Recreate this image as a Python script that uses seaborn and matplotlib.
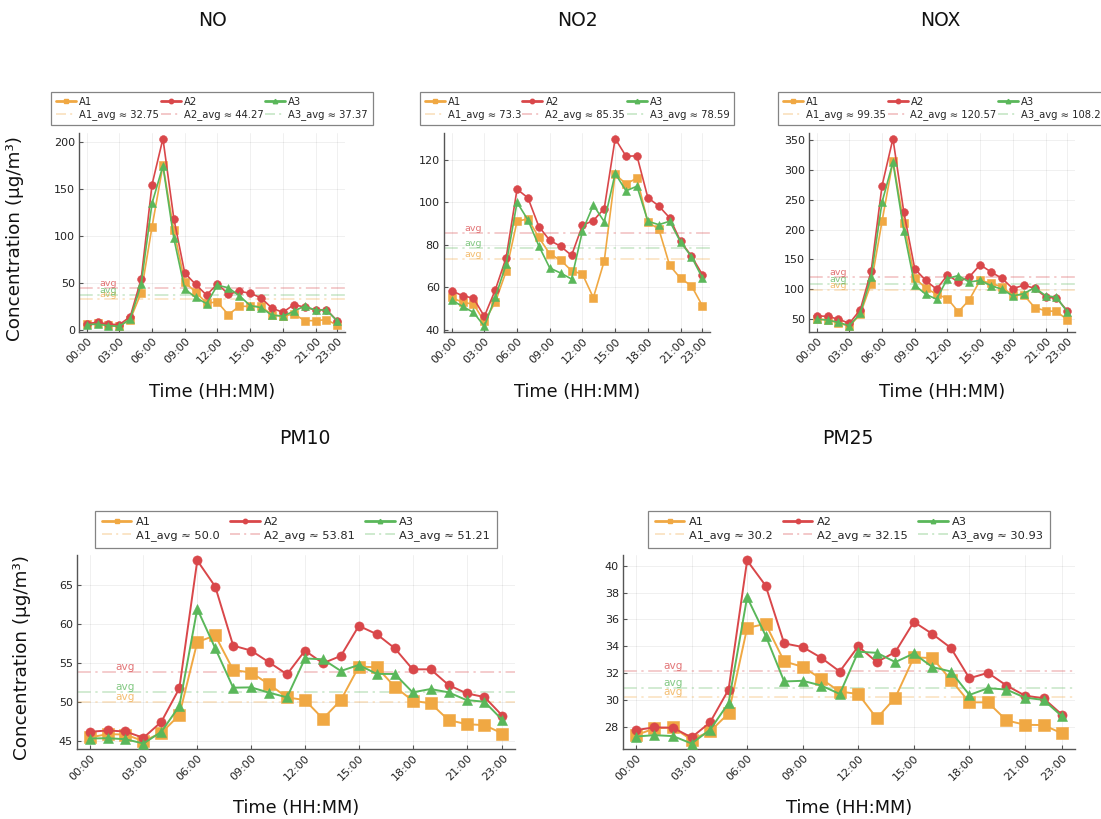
import numpy as np
import seaborn as sns
import matplotlib
matplotlib.use("Agg")
import matplotlib.pyplot as plt
from matplotlib.lines import Line2D

# ---- data -------------------------------------------------------------
hours = list(range(24))
tick_hours = [0, 3, 6, 9, 12, 15, 18, 21, 23]
tick_labels = ["00:00", "03:00", "06:00", "09:00", "12:00",
               "15:00", "18:00", "21:00", "23:00"]
sites = ["A1", "A2", "A3"]

no_a1 = [6, 6.8, 5, 4, 10.8, 39.4, 110, 175.5, 106, 51, 40.1, 28.7,
         29.4, 16.1, 25, 25, 25, 16, 14.3, 17, 9.7, 9.7, 10.8, 4.7]
no_a2 = [6.5, 7.9, 6, 5.4, 14, 54, 155, 204, 118.5, 60.5, 48.4, 37,
         49, 38, 41, 39, 34, 23, 18.6, 26.7, 24.2, 21, 21.5, 9.3]
no_a3 = [5.4, 6, 4.3, 3.6, 11.5, 48.5, 135, 175, 97.5, 43.5, 34.5, 27.8,
         47.5, 44.8, 36.4, 25.8, 23.6, 15.5, 14.6, 19.7, 25.4, 20.8, 21.2, 9]

no2_a1 = [55.2, 52.9, 52.1, 43.9, 52.9, 67.5, 91.1, 92.2, 83.5, 75.7, 72.8, 67.8,
          66.2, 55.1, 72.4, 113.2, 108.7, 111.4, 90.6, 87.5, 70.3, 64.2, 60.7, 51.3]
no2_a2 = [58.4, 56, 54.9, 46.3, 58.7, 73.9, 106.2, 102.1, 88.6, 82.1, 79.3, 75,
          89.2, 91.4, 97.1, 130, 121.7, 121.9, 102.2, 98.3, 92.7, 81.7, 74.7, 66]
no2_a3 = [54, 51, 48.2, 41.6, 55.2, 70.8, 100, 91.7, 79.5, 69.1, 66.7, 63.9,
          86.5, 98.7, 90.9, 113.6, 105.4, 107.6, 91.1, 89.5, 91.1, 81.3, 74.4, 64.4]

nox_a1 = [50, 48.9, 43.9, 37.8, 58.3, 109.4, 214, 315, 211, 118.9, 102.2, 91.7,
          84.4, 62.2, 82.2, 115, 110, 103.9, 90, 90.6, 69.4, 63.9, 62.8, 48.9]
nox_a2 = [55.6, 54.4, 50, 42.8, 65.6, 130.3, 273.5, 352.5, 229, 134.4, 115, 100,
          123.9, 112.2, 120.6, 141.1, 128.9, 118.3, 101.1, 106.7, 101.7, 87.2, 85, 63.9]
nox_a3 = [50, 48.3, 44.4, 38.9, 59.4, 121, 246, 313, 198, 107, 91.7, 83.3,
          118, 123, 112, 115, 106, 100, 88.9, 92.7, 102.7, 89.3, 86.6, 61.7]

pm10_a1 = [45.43, 45.86, 45.81, 44.96, 46.03, 48.3, 57.65, 58.5, 54.08, 53.74, 52.24, 50.57,
           50.22, 47.83, 50.22, 54.51, 54.42, 51.94, 50.14, 49.8, 47.66, 47.14, 47.01, 45.94]
pm10_a2 = [46.16, 46.33, 46.2, 45.39, 47.44, 51.72, 68.1, 64.76, 57.2, 56.56, 55.06, 53.52,
           56.56, 54.94, 55.88, 59.73, 58.66, 56.86, 54.16, 54.16, 52.15, 51.08, 50.61, 48.21]
pm10_a3 = [45.3, 45.34, 45.21, 44.66, 46.16, 49.45, 61.9, 56.86, 51.81, 51.85, 51.17, 50.57,
           55.55, 55.45, 53.95, 54.72, 53.57, 53.57, 51.21, 51.64, 51.21, 50.22, 50.01, 47.66]

pm25_a1 = [27.4, 27.9, 27.98, 27.05, 27.68, 29.02, 35.37, 35.67, 32.88, 32.48, 31.58, 30.64,
           30.46, 28.65, 30.19, 33.18, 33.13, 31.51, 29.84, 29.84, 28.5, 28.17, 28.15, 27.53]
pm25_a2 = [27.78, 27.98, 27.95, 27.23, 28.35, 30.79, 40.38, 38.51, 34.22, 33.95, 33.15, 32.13,
           34, 32.83, 33.58, 35.82, 34.92, 33.88, 31.63, 32.03, 31.09, 30.34, 30.14, 28.92]
pm25_a3 = [27.3, 27.4, 27.33, 26.78, 27.8, 29.79, 37.65, 34.8, 31.39, 31.44, 31.09, 30.46,
           33.6, 33.52, 32.83, 33.47, 32.46, 32.13, 30.39, 30.89, 30.79, 30.19, 30.02, 28.8]

pollutants = ["NO", "NO2", "NOX", "PM10", "PM25"]
series = {
    "NO": [no_a1, no_a2, no_a3],
    "NO2": [no2_a1, no2_a2, no2_a3],
    "NOX": [nox_a1, nox_a2, nox_a3],
    "PM10": [pm10_a1, pm10_a2, pm10_a3],
    "PM25": [pm25_a1, pm25_a2, pm25_a3],
}
yticks = {
    "NO": [0, 50, 100, 150, 200],
    "NO2": [40, 60, 80, 100, 120],
    "NOX": [50, 100, 150, 200, 250, 300, 350],
    "PM10": [45, 50, 55, 60, 65],
    "PM25": [28, 30, 32, 34, 36, 38, 40],
}

# ---- style ------------------------------------------------------------
sns.set_theme(style="ticks")
plt.rcParams["font.family"] = ["DejaVu Sans"]
plt.rcParams["axes.edgecolor"] = "#555555"
plt.rcParams["xtick.color"] = "#555555"
plt.rcParams["ytick.color"] = "#555555"
plt.rcParams["xtick.labelcolor"] = "#222222"
plt.rcParams["ytick.labelcolor"] = "#222222"

colors = {"A1": "#f0a843", "A2": "#d9474a", "A3": "#5ab75a"}
markers = {"A1": "s", "A2": "o", "A3": "^"}
dashdot = (0, (9, 3, 1.5, 3))

W, H = 1101, 819
fig = plt.figure(figsize=(W / 100, H / 100), dpi=100)

# panel boxes in pixels: left, right, top, bottom
boxes = {
    "NO": (79, 345, 133, 332),
    "NO2": (444, 710, 133, 332),
    "NOX": (809, 1075, 133, 332),
    "PM10": (77, 515, 555, 749),
    "PM25": (623, 1075, 555, 749),
}
title_pos = {"NO": (212, 20), "NO2": (577, 20), "NOX": (940, 20),
             "PM10": (305, 438), "PM25": (848, 438)}


def fmt_avg(v):
    return repr(round(float(v), 2))


for name in pollutants:
    l, r, t, b = boxes[name]
    big = name.startswith("PM")
    ax = fig.add_axes([l / W, 1 - b / H, (r - l) / W, (b - t) / H])
    ms = {"A1": 8.0, "A2": 6.6, "A3": 7.6} if big else {"A1": 6.4, "A2": 5.6, "A3": 6.2}
    lw = 1.4 if big else 1.2
    fs_leg = 8.2 if big else 7.2
    fs_avg = 7.6 if big else 6.8

    handles = []
    vals_all = []
    for site, vals in zip(sites, series[name]):
        c = colors[site]
        sns.lineplot(x=hours, y=vals, ax=ax, color=c, marker=markers[site],
                     markersize=ms[site], markeredgewidth=0.4, markeredgecolor=c,
                     linewidth=lw, legend=False, zorder=3)
        avg = float(np.mean(vals))
        ax.axhline(avg, color=c, linestyle=dashdot, linewidth=1.1, alpha=0.35, zorder=2)
        ax.text(2, avg, "avg", color=c, alpha=0.75, fontsize=fs_avg,
                ha="center", va="bottom", zorder=2)
        vals_all.extend(vals)
        handles.append(Line2D([], [], color=c, marker=markers[site], markersize=3.2,
                              linewidth=2.0, label=site))
        handles.append(Line2D([], [], color=c, linestyle=(0, (6, 2.5, 1.2, 2.5)),
                              linewidth=1.2, alpha=0.35,
                              label=f"{site}_avg \u2248 {fmt_avg(avg)}"))

    lo, hi = min(vals_all), max(vals_all)
    pad = 0.03 * (hi - lo)
    ax.set_ylim(lo - pad, hi + pad)
    ax.set_xlim(-0.7, 23.7)
    ax.set_xticks(tick_hours)
    ax.set_xticklabels(tick_labels, rotation=45, ha="right", rotation_mode="anchor")
    ax.set_yticks(yticks[name])
    ax.tick_params(axis="both", direction="in", length=3, width=0.8, labelsize=8, pad=3)
    ax.grid(True, color="black", alpha=0.07, linewidth=0.6)
    for side in ("top", "right"):
        ax.spines[side].set_visible(False)
    for side in ("left", "bottom"):
        ax.spines[side].set_linewidth(1.0)

    ax.set_xlabel("Time (HH:MM)", fontsize=12.8, color="#111111")
    axh = b - t
    ax.xaxis.set_label_coords(0.5, -(383 - 332) / 199 if not big else -(799 - 749) / 194)
    ax.xaxis.label.set_va("top")
    if name in ("NO", "PM10"):
        ax.set_ylabel("Concentration (\u03bcg/m\u00b3)", fontsize=13.2, color="#111111")
        ax.yaxis.set_label_coords((24 - l) / (r - l) if not big else (31 - l) / (r - l), 0.47)
    else:
        ax.set_ylabel("")

    leg_gap = 8 if not big else 7
    leg = ax.legend(handles=handles, ncol=3, loc="lower center",
                    bbox_to_anchor=(0.5, 1 + leg_gap / axh), fontsize=fs_leg,
                    frameon=True, fancybox=False, edgecolor="#666666",
                    borderpad=0.5 if not big else 0.6,
                    labelspacing=0.24 if not big else 0.25,
                    handlelength=2.0 if not big else 2.6,
                    handletextpad=0.3 if not big else 0.4,
                    columnspacing=0.15 if not big else 0.9, borderaxespad=0)
    leg.get_frame().set_linewidth(0.9)

    tx, ty = title_pos[name]
    fig.text(tx / W, 1 - ty / H, name, ha="center", va="center",
             fontsize=13.5, color="#111111")

fig.savefig("out.png", dpi=100, facecolor="white")
